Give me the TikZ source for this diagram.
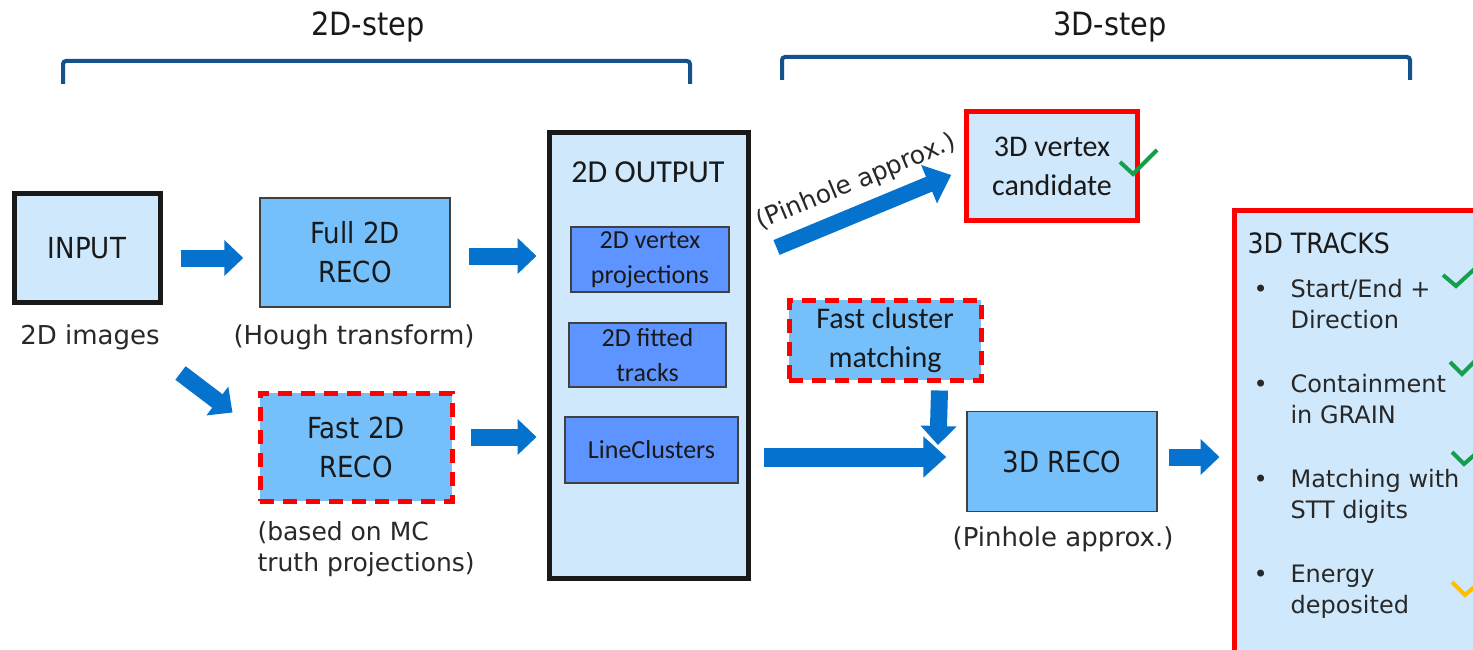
\documentclass[tikz,border=0pt]{standalone}
\usepackage{fontspec}
\usetikzlibrary{arrows.meta,calc}
\newfontfamily\verdfont{DejaVu Sans}
\newfontfamily\tahfont[FakeStretch=0.9]{DejaVu Sans}
\newfontfamily\calfont{Carlito}
\definecolor{lightfill}{RGB}{207,232,251}
\definecolor{midfill}{RGB}{117,191,250}
\definecolor{subfill}{RGB}{94,148,255}
\definecolor{arrowblue}{RGB}{5,114,206}
\definecolor{brk}{RGB}{20,82,140}
\definecolor{chkgreen}{RGB}{20,160,75}
\definecolor{chkorange}{RGB}{255,190,0}
\definecolor{txt}{RGB}{25,25,25}
\definecolor{lbl}{RGB}{40,40,40}
\begin{document}
\begin{tikzpicture}[x=1pt,y=-1pt,
  thickbox/.style={draw=txt, line width=5pt, fill=lightfill, text=txt},
  midbox/.style={draw=black!75, line width=1.5pt, fill=midfill, text=txt, align=center},
  subbox/.style={draw=black!75, line width=1.5pt, fill=subfill, text=txt, align=center},
  dashbox/.style={draw=red, line width=5pt, dash pattern=on 14pt off 9pt, fill=midfill, text=txt, align=center},
  redbox/.style={draw=red, line width=4.5pt, fill=lightfill, text=txt, align=center},
  barrow/.style={draw=arrowblue, line width=17pt, -{Triangle[length=19pt,width=35pt]}},
  longarrow/.style={draw=arrowblue, line width=19pt, -{Triangle[length=23pt,width=40pt]}},
  bigarrow/.style={draw=arrowblue, line width=16pt, -{Triangle[length=24pt,width=40pt]}},
  lbltext/.style={text=lbl, font=\verdfont\fontsize{26}{31}\selectfont},
  itemtext/.style={text=lbl, font=\verdfont\fontsize{24}{31}\selectfont, anchor=base west},
  brace/.style={draw=brk, line width=4pt, rounded corners=3pt},
  chk/.style={line width=4pt},
  tahbig/.style={font=\tahfont\fontsize{29}{39}\selectfont},
  calbig/.style={font=\calfont\fontsize{30}{39}\selectfont},
  calsub/.style={font=\calfont\fontsize{26}{35}\selectfont}
]
\clip (0,0) rectangle (1473,650);
\fill[white] (0,0) rectangle (1473,650);

% step headers
\node[text=txt, font=\tahfont\fontsize{32}{36}\selectfont] (s2) at (368,27) {2D-step};
\node[text=txt, font=\tahfont\fontsize{32}{36}\selectfont] (s3) at (1110,27) {3D-step};
\draw[brace] (63,84) -- (63,61) -- (690,61) -- (690,84);
\draw[brace] (782,80) -- (782,57) -- (1410,57) -- (1410,80);

% left column
\node[thickbox, minimum width=146, minimum height=109, tahbig] (in) at (87,248) {INPUT};
\node[lbltext] (inl) at (90,337) {2D images};
\node[midbox, minimum width=190, minimum height=109, tahbig] (full) at (355,252.5) {Full 2D\\RECO};
\node[lbltext] (fulll) at (354,337) {(Hough transform)};
\node[dashbox, minimum width=192, minimum height=108, tahbig] (fast) at (356,447) {Fast 2D\\RECO};
\node[lbltext, font=\verdfont\fontsize{25}{31}\selectfont, align=left, anchor=north west] (fastl) at (254,518) {(based on MC\\truth projections)};

% 2D output
\node[thickbox, minimum width=199, minimum height=445] (out) at (648.5,355.5) {};
\node[text=txt, font=\calfont\fontsize{32}{36}\selectfont] (outt) at (648,172) {2D OUTPUT};
\node[subbox, minimum width=158, minimum height=65, calsub] (vp) at (650,259.5) {2D vertex\\projections};
\node[subbox, minimum width=157, minimum height=64, calsub] (ft) at (647.5,355) {2D fitted\\tracks};
\node[subbox, minimum width=173, minimum height=66, calsub] (lc) at (651.5,450) {LineClusters};

% 3D part
\node[redbox, minimum width=171, minimum height=109, calbig] (v3) at (1052,166) {3D vertex\\candidate};
\node[dashbox, minimum width=192, minimum height=80, calbig] (fcm) at (885,340) {Fast cluster\\matching};
\node[midbox, minimum width=190, minimum height=100, tahbig] (r3) at (1062,461.5) {3D RECO};
\node[lbltext] (r3l) at (1063,539) {(Pinhole approx.)};
\node[redbox, line width=5pt, minimum width=286, minimum height=490] (tr) at (1377,455) {};
\node[text=txt, font=\tahfont\fontsize{28}{34}\selectfont, anchor=west] (trt) at (1244,243) {3D TRACKS};

% bullet items
\foreach \y/\a/\b [count=\i] in {297/{Start/End +}/Direction, 392/Containment/in GRAIN, 487/Matching with/STT digits, 582/Energy/deposited}{
  \node[itemtext] (b\i) at (1250,\y) {\textbullet};
  \node[itemtext] (ia\i) at (1287,\y) {\a};
  \node[itemtext] (ib\i) at (1287,\y+31) {\b};
}

% check marks
\draw[chk, draw=chkgreen] (1120,162) -- (1133,174) -- (1157,150);
\draw[chk, draw=chkgreen] (1443,275) -- (1456,286) -- (1480,264);
\draw[chk, draw=chkgreen] (1450,362) -- (1462,374) -- (1480,356);
\draw[chk, draw=chkgreen] (1452,452) -- (1464,464) -- (1480,450);
\draw[chk, draw=chkorange] (1452,582) -- (1465,595) -- (1480,582);

% arrows
\draw[barrow] ($(in.east)+(18,10)$) -- ($(full.west)+(-16,5.5)$);
\draw[barrow] ($(in.south east)+(18,68)$) -- ($(fast.north west)+(-25,22)$);
\draw[barrow] ($(full.east)+(18,3.5)$) -- ($(out.west)+(-10,-99.5)$);
\draw[barrow] ($(fast.east)+(16,-10)$) -- ($(out.west)+(-10,81.5)$);
\draw[bigarrow] ($(out.north east)+(26,117)$) -- node[midway, sloped, above=6pt, xshift=4pt, lbltext, font=\verdfont\fontsize{25}{30}\selectfont] (pl) {(Pinhole approx.)} ($(v3.west)+(-13,9)$);
\coordinate (dtip) at (938,445);
\draw[barrow] ($(fcm.south east)+(-44,8)$) -- (dtip);
\draw[longarrow] ($(lc.east)+(25,7)$) -- ($(r3.west)+(-20,-4.5)$);
\draw[barrow] ($(r3.east)+(11,-4.5)$) -- ($(tr.west)+(-12,2)$);
\end{tikzpicture}
\end{document}
